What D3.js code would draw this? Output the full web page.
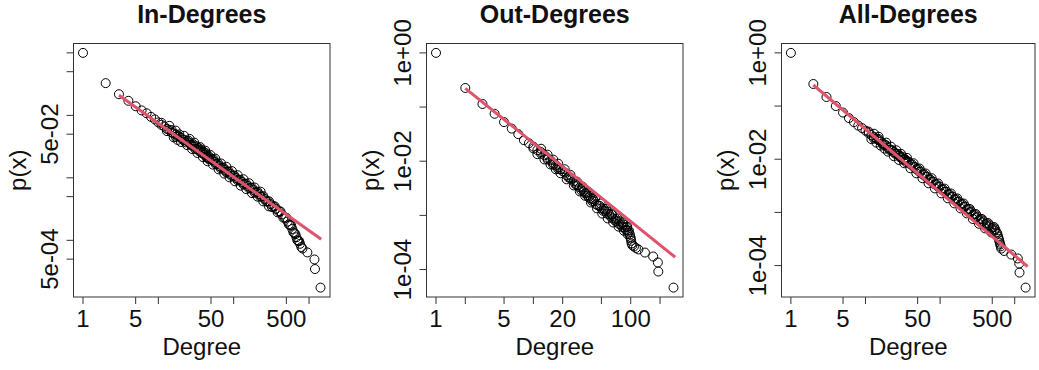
<!DOCTYPE html>
<html>
<head>
<meta charset="utf-8">
<script src="https://cdn.jsdelivr.net/npm/d3@7"></script>
<style>
    body { margin: 0; background: #fff; }
    text { font-family: "Liberation Sans", Arial, sans-serif; fill: #111; }
    .chart-title { font-weight: bold; font-size: 25px; text-anchor: middle; }
    .axis-label { font-size: 24px; text-anchor: middle; }
    .tick-label { font-size: 24px; text-anchor: middle; }
</style>
</head>
<body>
<div id="chart"></div>
<script>
// Degree distributions (log-log). First line of each
// list is the main run of points, the next lines the spread of the dense band
const inDegree = [1,2,3,4,5,6,7,8,9,10,11,12,13,14,15,16,17,18,19,20,22,24,26,28,30,33,36,39,42,45,48,52,56,60,65,70,76,82,90,98,107,117,128,140,153,167,182,198,216,236,258,282,308,336,366,400,436,476,520,560,600,640,680,720,760,820,950,1180,1200,1420,
    11,13,15,17,19,21,23,25,27,29,31,32,34,35,37,38,40,41,43,44,46,47,50,54,58,62,67,73,79,86,94,102,112,122,134,146,160,174,190,207,226,247,270,295,322,350,383,418,456,498,540,580,620,660,700,740,790,
    16,18,20,24,28,33,39,45,53,63,75,88,104,124,147,175,208,247,294,
    14,17,22,26,30,36,42,49,57,68,80,95,113,135,160,190,228];
const inProb = [1,0.328,0.218,0.171,0.140,0.120,0.108,0.0946,0.0861,0.0771,0.0703,0.0665,0.0606,0.0584,0.0532,0.0513,0.0494,0.0467,0.0458,0.0434,0.0403,0.0388,0.036,0.0328,0.0316,0.0288,0.0272,0.0248,0.0235,0.0212,0.0200,0.0192,0.0180,0.0167,0.0154,0.0144,0.0134,0.0126,0.0116,0.0108,0.0100,0.0093,0.0086,0.0080,0.0074,0.0069,0.0064,0.0059,0.0055,0.0050,0.0046,0.0042,0.0038,0.0035,0.0032,0.0029,0.0026,0.0023,0.0020,0.00175,0.00152,0.00130,0.00112,0.00098,0.00088,0.00074,0.00064,0.000494,0.000347,0.000175,
    0.0760,0.0560,0.0580,0.0455,0.0495,0.0410,0.0370,0.0395,0.0340,0.0345,0.0290,0.0320,0.0300,0.0265,0.0285,0.0250,0.0260,0.0232,0.0245,0.0212,0.0225,0.0198,0.0205,0.0198,0.0165,0.0170,0.0143,0.0146,0.0124,0.0127,0.0107,0.0109,0.0092,0.0093,0.0079,0.0081,0.0068,0.0070,0.0058,0.0060,0.0050,0.0051,0.0042,0.0042,0.0034,0.0035,0.0028,0.0029,0.0023,0.0023,0.0018,0.00172,0.00135,0.00125,0.00100,0.00097,0.00078,
    0.0445,0.0405,0.0375,0.0335,0.0290,0.0250,0.0215,0.0184,0.0163,0.0137,0.0117,0.0102,0.0088,0.0075,0.0066,0.0057,0.0050,0.0042,0.0035,
    0.068,0.057,0.047,0.042,0.0367,0.0310,0.0272,0.0232,0.0203,0.0170,0.0150,0.0128,0.0110,0.0095,0.0082,0.0070,0.0060];

const outDegree = [1,2,3,4,5,6,7,8,9,10,11,12,13,14,15,16,17,18,19,20,22,24,26,28,30,33,36,39,42,46,50,55,60,66,72,79,86,93,98,100,102,108,120,140,170,190,192,275,
    10,12,14,16,18,21,23,25,27,29,31,32,34,35,37,38,40,41,44,48,52,53,57,58,63,64,69,70,75,77,82,84,89,91,95,96,99,101,104,113,
    11,13,15,17,19,22,26,30,34,39,45,51,58,66,75,85,93,
    12,14,16,18,21,24,28,32,37,43,49,56,64,73,83,92];
const outProb = [1,0.225,0.114,0.0751,0.0527,0.04,0.0316,0.0245,0.0215,0.0186,0.016,0.0147,0.0129,0.0114,0.0104,0.00919,0.00844,0.00774,0.00711,0.00654,0.00551,0.00484,0.00426,0.0036,0.0033,0.00278,0.00234,0.00206,0.00182,0.00153,0.00135,0.00119,0.00104,0.00088,0.000774,0.000681,0.0006,0.000528,0.000445,0.000375,0.000303,0.000267,0.000235,0.000206,0.000174,0.000135,0.0000918,0.0000464,
    0.0172,0.0138,0.0107,0.0086,0.0072,0.0062,0.0050,0.0047,0.0038,0.0036,0.0029,0.0031,0.00255,0.0026,0.00215,0.0023,0.00185,0.0020,0.00160,0.00150,0.00122,0.00132,0.00108,0.00118,0.00092,0.00102,0.00080,0.00086,0.00070,0.00078,0.00061,0.00068,0.00054,0.00060,0.00048,0.00052,0.00040,0.00034,0.00028,0.00025,
    0.0135,0.0108,0.0087,0.0071,0.0060,0.00463,0.00358,0.00277,0.00230,0.00173,0.00135,0.00108,0.00088,0.00074,0.00062,0.00052,0.00045,
    0.0170,0.0132,0.0107,0.0090,0.0071,0.0056,0.0042,0.0034,0.0027,0.0021,0.00165,0.00132,0.00108,0.00088,0.00074,0.00062];

const allDegree = [1,2,3,4,5,6,7,8,9,10,11,12,13,14,15,16,17,18,20,22,24,26,28,30,33,36,40,44,48,53,58,64,70,77,85,94,104,115,127,140,155,170,188,207,228,250,275,302,332,365,400,440,485,530,570,600,620,640,660,720,900,1100,1150,1160,1400,
    11,13,15,17,19,21,23,25,27,29,31,32,34,35,38,42,46,50,55,61,67,73,81,89,99,109,121,133,147,162,179,197,217,239,262,288,317,348,382,420,462,507,550,585,610,630,650,
    12,14,16,18,20,24,28,33,40,48,58,70,85,104,127,155,188,228,275,332,400,485,
    13,15,19,22,26,30,36,44,53,64,77,94,115,140,170,207,250,302,365,440,530];
const allProb = [1,0.26,0.148,0.1,0.0754,0.0594,0.0499,0.0429,0.0385,0.0345,0.031,0.0284,0.026,0.0244,0.0228,0.0214,0.02,0.0188,0.0165,0.0148,0.0136,0.0127,0.0116,0.0109,0.01,0.00917,0.00805,0.00722,0.00648,0.0058,0.00521,0.00468,0.0042,0.00376,0.00337,0.00303,0.00272,0.00244,0.00219,0.00196,0.00176,0.00158,0.00142,0.00127,0.00114,0.001,0.000897,0.000805,0.000722,0.000648,0.000594,0.000545,0.000499,0.000457,0.000419,0.000352,0.000296,0.000249,0.000209,0.000188,0.000161,0.000136,0.000109,0.0000738,0.0000385,
    0.0330,0.0245,0.0240,0.0190,0.0182,0.0150,0.0148,0.0127,0.0126,0.0109,0.0112,0.0098,0.0100,0.0088,0.0090,0.0080,0.0071,0.0066,0.0059,0.0052,0.0047,0.0042,0.0038,0.0034,0.00305,0.00272,0.00245,0.00220,0.00198,0.00178,0.00160,0.00144,0.00129,0.00116,0.00103,0.00093,0.00083,0.00075,0.00068,0.00062,0.00057,0.00052,0.00048,0.00040,0.00032,0.00027,0.00023,
    0.0239,0.0205,0.0180,0.0158,0.0139,0.0114,0.0097,0.0084,0.00676,0.00544,0.00438,0.00353,0.00283,0.00228,0.00184,0.00148,0.00119,0.00096,0.00075,0.00061,0.0005,0.00042,
    0.0302,0.0265,0.0205,0.0172,0.0147,0.0126,0.0106,0.0084,0.0067,0.0054,0.0044,0.0035,0.0028,0.00227,0.00183,0.00147,0.00116,0.00093,0.00075,0.00063,0.00053];

// Power-law fit lines (end points)
const inFitX = [3, 1450];
const inFitY = [0.21, 0.00104];
const outFitX = [2, 286];
const outFitY = [0.222, 0.000169];
const allFitX = [2, 1490];
const allFitY = [0.249, 0.000096];

// Tick positions and the labels R kept
const degTicks125 = [1, 5, 10, 50, 100, 500, 1000];
const degLabels125 = [1, 5, 50, 500];
const outDegTicks = [1, 2, 5, 10, 20, 50, 100, 200];
const outDegLabels = [1, 5, 20, 100];
const inProbTicks = [1, 0.5, 0.1, 0.05, 0.01, 0.005, 0.001, 0.0005];
const inProbLabels = ["5e-02", "5e-04"];
const probTicks = [1, 0.1, 0.01, 0.001, 0.0001];
const probLabels = ["1e+00", "1e-02", "1e-04"];

const titles = ["In-Degrees", "Out-Degrees", "All-Degrees"];

const width = 1039;
const height = 370;

const svg = d3.select("#chart")
    .append("svg")
    .attr("width", width)
    .attr("height", height);

// R style log range: data extent padded by 4% on each side
function paddedLog(values) {
    const [lo, hi] = d3.extent(values).map(Math.log10);
    const pad = (hi - lo) * 0.04;
    return [Math.pow(10, lo - pad), Math.pow(10, hi + pad)];
}

function drawPanel(p) {
    const g = svg.append("g");

    const x = d3.scaleLog()
        .domain(paddedLog(p.deg))
        .range([p.left, p.right]);

    const y = d3.scaleLog()
        .domain(paddedLog(p.prob).reverse())
        .range([p.top, p.bottom]);

    // Title
    g.append("text")
        .attr("class", "chart-title")
        .attr("x", (p.left + p.right) / 2)
        .attr("y", 23)
        .text(p.title);

    // x axis ticks
    g.selectAll(".xtick")
        .data(p.xTicks)
        .enter()
        .append("line")
        .attr("x1", d => x(d))
        .attr("x2", d => x(d))
        .attr("y1", p.bottom)
        .attr("y2", p.bottom + 7)
        .attr("stroke", "#333");

    g.selectAll(".xlab")
        .data(p.xLabels)
        .enter()
        .append("text")
        .attr("class", "tick-label")
        .attr("x", d => x(d))
        .attr("y", p.bottom + 30)
        .text(d => d);

    // y axis ticks
    g.selectAll(".ytick")
        .data(p.yTicks)
        .enter()
        .append("line")
        .attr("x1", p.left - 7)
        .attr("x2", p.left)
        .attr("y1", d => y(d))
        .attr("y2", d => y(d))
        .attr("stroke", "#333");

    g.selectAll(".ylab")
        .data(p.yLabels)
        .enter()
        .append("text")
        .attr("class", "tick-label")
        .attr("transform", d => `translate(${p.left - 16}, ${y(+d)}) rotate(-90)`)
        .text(d => d);

    // Axis labels
    g.append("text")
        .attr("class", "axis-label")
        .attr("x", (p.left + p.right) / 2)
        .attr("y", p.bottom + 58)
        .text("Degree");

    g.append("text")
        .attr("class", "axis-label")
        .attr("transform", `translate(${p.left - 48}, ${(p.top + p.bottom) / 2}) rotate(-90)`)
        .text("p(x)");

    // Points
    g.selectAll("circle")
        .data(p.deg.map((d, i) => [d, p.prob[i]]))
        .enter()
        .append("circle")
        .attr("cx", d => x(d[0]))
        .attr("cy", d => y(d[1]))
        .attr("r", 4.5)
        .attr("fill", "none")
        .attr("stroke", "#000")
        .attr("stroke-width", 1);

    // Fitted line
    g.append("path")
        .datum(p.fitX.map((d, i) => [d, p.fitY[i]]))
        .attr("d", d3.line().x(d => x(d[0])).y(d => y(d[1])))
        .attr("fill", "none")
        .attr("stroke", "#DF536B")
        .attr("stroke-width", 3);

    // Box
    g.append("rect")
        .attr("x", p.left)
        .attr("y", p.top)
        .attr("width", p.right - p.left)
        .attr("height", p.bottom - p.top)
        .attr("fill", "none")
        .attr("stroke", "#333")
        .attr("stroke-width", 1);
}

drawPanel({ title: titles[0], deg: inDegree, prob: inProb, fitX: inFitX, fitY: inFitY,
    xTicks: degTicks125, xLabels: degLabels125, yTicks: inProbTicks, yLabels: inProbLabels,
    left: 73.5, right: 330, top: 43.5, bottom: 297 });

drawPanel({ title: titles[1], deg: outDegree, prob: outProb, fitX: outFitX, fitY: outFitY,
    xTicks: outDegTicks, xLabels: outDegLabels, yTicks: probTicks, yLabels: probLabels,
    left: 426.5, right: 683, top: 43.5, bottom: 297 });

drawPanel({ title: titles[2], deg: allDegree, prob: allProb, fitX: allFitX, fitY: allFitY,
    xTicks: degTicks125, xLabels: degLabels125, yTicks: probTicks, yLabels: probLabels,
    left: 781.5, right: 1035, top: 43.5, bottom: 297 });
</script>
</body>
</html>
